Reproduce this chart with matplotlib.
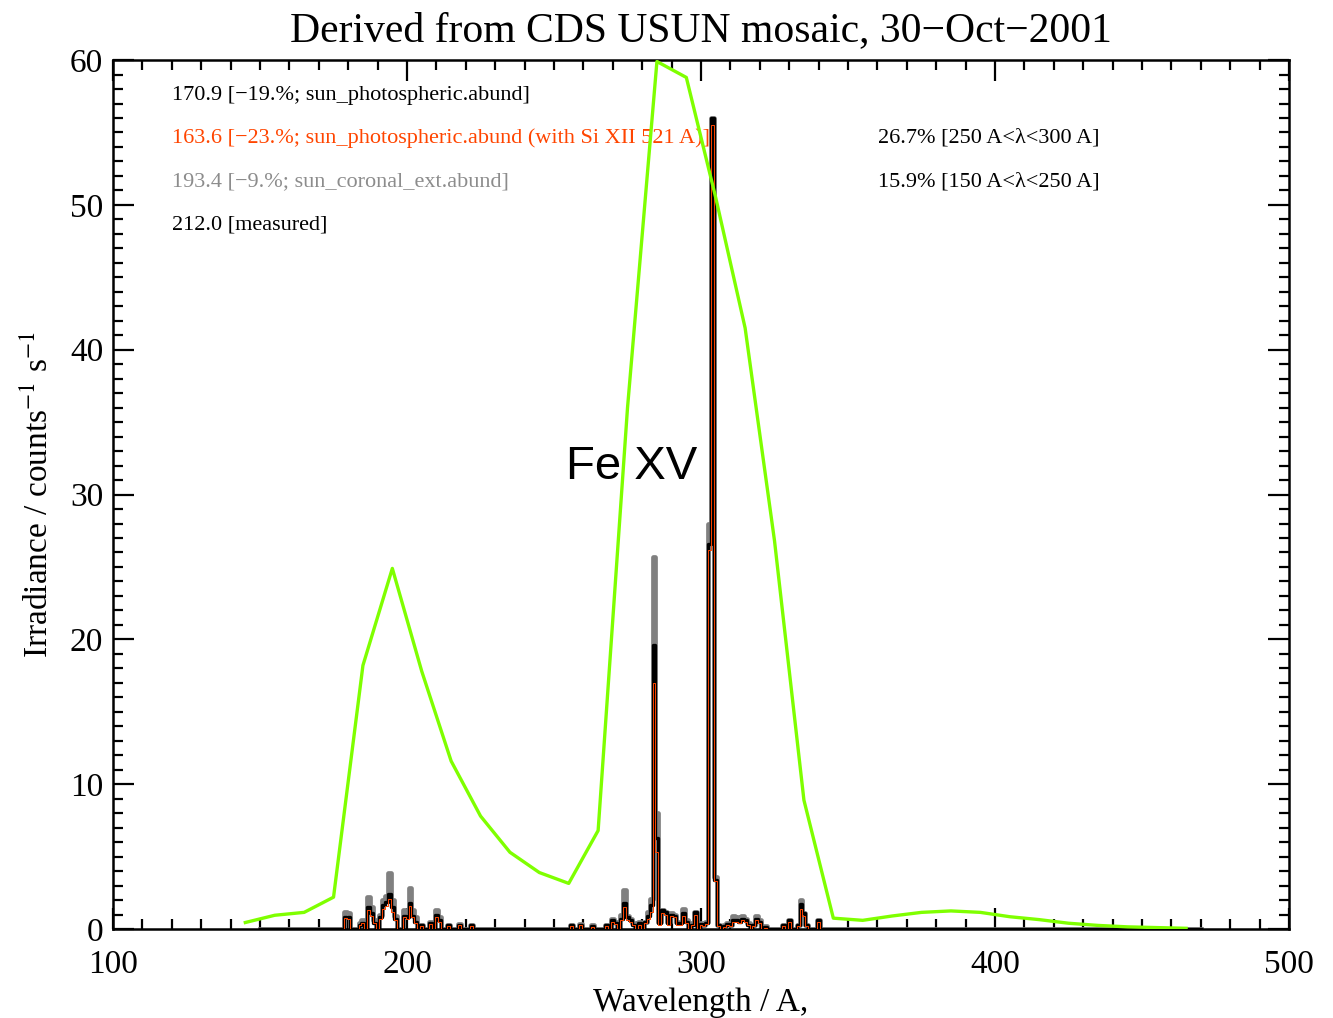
import numpy as np
import matplotlib
matplotlib.use("Agg")
import matplotlib.pyplot as plt
from matplotlib.ticker import MultipleLocator

plt.rcParams['font.family'] = ['Liberation Serif', 'DejaVu Serif']
plt.rcParams['mathtext.fontset'] = 'stix'

# broad band (measured) curve, every 10 A
band_wave = [145, 155, 165, 175, 185, 195, 205, 215, 225, 235, 245, 255, 265, 275,
             285, 295, 305, 315, 325, 335, 345, 355, 365, 375, 385, 395, 405, 415,
             425, 435, 445, 455, 465]
band_flux = [0.45, 0.95, 1.15, 2.2, 18.2, 24.9, 17.8, 11.6, 7.8, 5.3, 3.9, 3.15, 6.8, 36.0,
             59.9, 58.8, 50.5, 41.5, 26.8, 8.9, 0.75, 0.6, 0.9, 1.15, 1.25, 1.15, 0.85, 0.65,
             0.4, 0.25, 0.15, 0.1, 0.05]

# line spectrum: wavelength bin and flux for the three synthetic spectra
line_wave = [179, 180, 184, 185, 187, 188, 189, 191, 192, 193, 194, 195, 196, 199, 200,
             201, 202, 203, 205, 208, 210, 211, 214, 218, 222, 256, 259, 263, 268, 270,
             271, 273, 274, 275, 276, 277, 279, 281, 282, 283, 284, 285, 286, 287, 288,
             289, 290, 291, 292, 293, 294, 295, 297, 298, 300, 301, 302, 303, 304, 305,
             306, 308, 309, 310, 311, 312, 313, 314, 315, 316, 318, 319, 320, 322, 328,
             330, 333, 334, 335, 336, 340]
gray_flux = [1.2, 1.1, 0.4, 0.6, 2.2, 1.5, 0.6, 1.0, 2.0, 2.3, 3.85, 2.0, 0.9, 1.3, 1.1,
             2.8, 1.3, 0.8, 0.3, 0.5, 1.3, 0.8, 0.3, 0.35, 0.3, 0.3, 0.35, 0.25, 0.3, 0.7,
             0.5, 1.0, 2.7, 0.9, 0.7, 0.4, 0.5, 0.5, 1.2, 2.1, 25.7, 8.0, 0.5, 1.3, 1.2,
             0.5, 1.1, 1.0, 0.5, 0.5, 1.35, 0.6, 0.4, 1.2, 0.4, 0.3, 0.5, 28.0, 56.0, 3.6,
             0.3, 0.3, 0.4, 0.3, 0.9, 0.8, 0.6, 0.9, 0.7, 0.4, 0.3, 0.9, 0.6, 0.2, 0.3,
             0.6, 0.3, 2.0, 1.1, 0.3, 0.6]
black_flux = [0.85, 0.8, 0.3, 0.45, 1.55, 1.1, 0.45, 0.8, 1.65, 1.9, 2.4, 1.5, 0.7, 0.9, 0.8,
              1.8, 0.9, 0.5, 0.25, 0.4, 1.0, 0.6, 0.25, 0.3, 0.25, 0.25, 0.3, 0.2, 0.25, 0.62,
              0.4, 0.7, 1.77, 0.8, 0.6, 0.3, 0.4, 0.5, 0.9, 1.66, 19.6, 6.3, 0.4, 1.3, 1.2,
              0.4, 1.0, 0.9, 0.4, 0.4, 1.1, 0.5, 0.3, 1.2, 0.35, 0.25, 0.4, 26.6, 56.0, 3.4,
              0.25, 0.2, 0.35, 0.25, 0.6, 0.6, 0.5, 0.7, 0.6, 0.3, 0.25, 0.7, 0.5, 0.15, 0.25,
              0.6, 0.25, 1.7, 1.1, 0.25, 0.6]
red_flux = [0.75, 0.7, 0.25, 0.4, 1.3, 0.9, 0.4, 0.7, 1.4, 1.6, 2.1, 1.2, 0.6, 0.8, 0.7,
            1.6, 0.8, 0.4, 0.2, 0.35, 0.85, 0.5, 0.2, 0.25, 0.2, 0.2, 0.25, 0.15, 0.2, 0.5,
            0.35, 0.6, 1.5, 0.6, 0.5, 0.25, 0.3, 0.4, 0.7, 1.2, 17.0, 5.3, 0.3, 1.1, 1.0,
            0.3, 0.9, 0.8, 0.3, 0.3, 0.9, 0.4, 0.25, 1.0, 0.3, 0.2, 0.35, 26.2, 55.5, 3.3,
            0.2, 0.15, 0.3, 0.2, 0.5, 0.5, 0.4, 0.6, 0.5, 0.25, 0.2, 0.6, 0.4, 0.1, 0.2,
            0.5, 0.2, 1.4, 0.9, 0.2, 0.5]

labels_left = ["170.9 [\u221219.%; sun_photospheric.abund]",
               "163.6 [\u221223.%; sun_photospheric.abund (with Si XII 521 A)]",
               "193.4 [\u22129.%; sun_coronal_ext.abund]",
               "212.0 [measured]"]
label_colors = ["black", "#ff4500", "#8c8c8c", "black"]
labels_right = ["26.7% [250 A<\u03bb<300 A]", "15.9% [150 A<\u03bb<250 A]"]

# put lines on a 1 A grid
grid = np.arange(150, 471, 1.0)
def on_grid(vals):
    spec = np.zeros_like(grid)
    for w, v in zip(line_wave, vals):
        spec[int(w - 150)] = v
    return spec

fig = plt.figure(figsize=(13.33, 10.18), dpi=100)
ax = fig.add_axes([0.0848, 0.0874, 0.8822, 0.8536])

ax.plot(grid, on_grid(gray_flux), drawstyle='steps-mid', color='#808080', lw=3.4, zorder=2)
ax.plot(grid, on_grid(black_flux), drawstyle='steps-mid', color='black', lw=2.4, zorder=3)
ax.plot(grid, on_grid(red_flux), drawstyle='steps-mid', color='#ff4500', lw=0.7, zorder=4)
ax.plot(band_wave, band_flux, color='#7fff00', lw=2.4, zorder=6)

for i, t in enumerate(labels_left):
    ax.text(0.050, 0.9597 - i * 0.0497, t, transform=ax.transAxes, color=label_colors[i],
            fontsize=16, va='center', ha='left', zorder=5)
for i, t in enumerate(labels_right):
    ax.text(0.6505, 0.910 - i * 0.0504, t, transform=ax.transAxes, color='black',
            fontsize=16, va='center', ha='left', zorder=5)

ax.text(254, 31.9, "Fe XV", family=['Liberation Sans', 'DejaVu Sans'], fontsize=34,
        va='center', ha='left', zorder=5)

ax.set_xlim(100, 500)
ax.set_ylim(0, 60)
ax.xaxis.set_major_locator(MultipleLocator(100))
ax.xaxis.set_minor_locator(MultipleLocator(10))
ax.yaxis.set_major_locator(MultipleLocator(10))
ax.yaxis.set_minor_locator(MultipleLocator(1))
ax.tick_params(which='both', direction='in', top=True, right=True, width=1.6, labelsize=24)
ax.tick_params(which='major', length=15)
ax.tick_params(which='minor', length=7)
ax.tick_params(axis='x', pad=15)
ax.tick_params(axis='y', pad=7)
for s in ax.spines.values():
    s.set_linewidth(1.8)

ax.set_xlabel("Wavelength / A,", fontsize=24, labelpad=5)
ax.set_ylabel(r"Irradiance / counts$^{-1}$ s$^{-1}$", fontsize=24, labelpad=11)
ax.set_title("Derived from CDS USUN mosaic, 30\u2212Oct\u22122001", fontsize=30, pad=14)

fig.savefig("out.png", dpi=100)
